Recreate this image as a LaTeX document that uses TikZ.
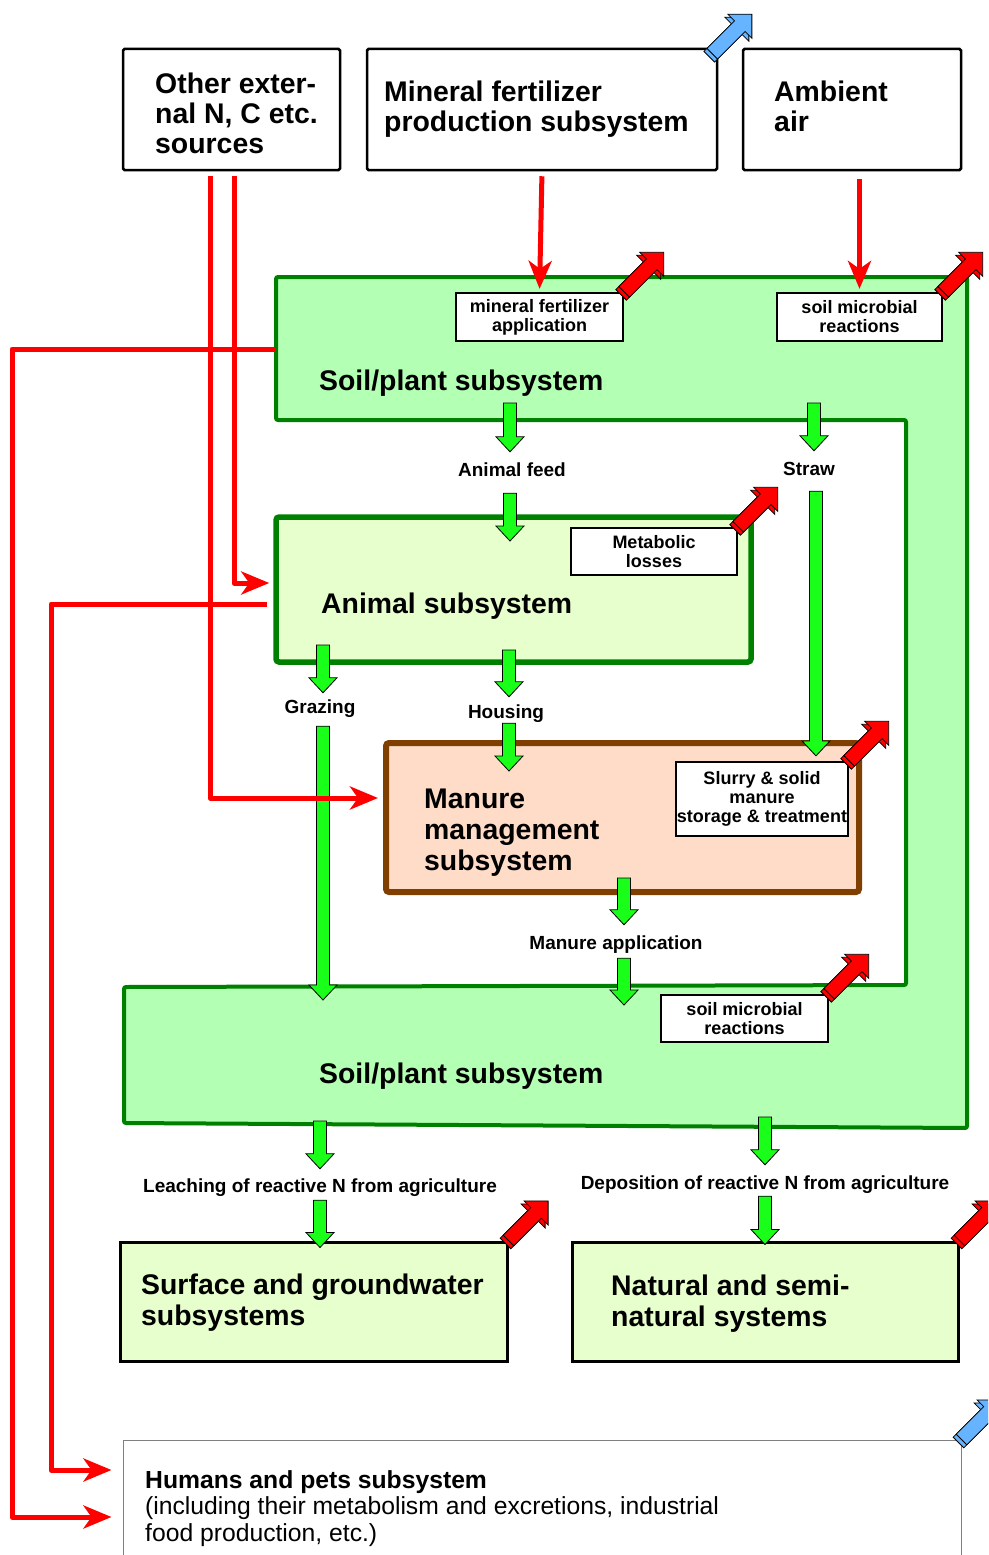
\documentclass[tikz,border=0pt]{standalone}
\usepackage{fontspec}
\setmainfont{Liberation Sans}
\usetikzlibrary{arrows.meta,calc}

\definecolor{soilgreen}{HTML}{B3FFB3}
\definecolor{palegreen}{HTML}{E6FFCC}
\definecolor{edgegreen}{HTML}{008000}
\definecolor{peach}{HTML}{FFDCC8}
\definecolor{manurebrown}{HTML}{7F3F00}
\definecolor{flowgreen}{HTML}{1AFF1A}
\definecolor{skyblue}{HTML}{66B3FF}

\newcommand\titlefont{\bfseries\fontsize{28.4}{30}\selectfont}
\newcommand\boxfont{\bfseries\fontsize{18}{19}\selectfont}
\newcommand\flowfont{\bfseries\fontsize{19}{20}\selectfont}

\tikzset{
  topbox/.style={draw=black,fill=white,line width=2.5pt,rounded corners=1.5pt,inner sep=0pt},
  smallbox/.style={draw=black,fill=white,line width=2.2pt,font=\boxfont,align=center,inner sep=0pt},
  title/.style={font=\titlefont,align=left,inner sep=0pt,anchor=north west},
  flowlabel/.style={font=\flowfont,inner sep=0pt,text height=14pt,text depth=4pt,anchor=base},
  flowarrow/.style={fill=flowgreen,draw=black,line width=0.8pt},
  feedline/.style={draw=red,line width=5pt,line join=round,-{Stealth[length=28pt,width=23pt,inset=8pt]}},
  pics/emission/.style={code={
    \begin{scope}[shift={(-3,3)},rotate=45]
      \filldraw[fill=#1,draw=black,line width=0.8pt] (0,7.5) -- (39,7.5) -- (39,17) -- (56,0) -- (39,-17) -- (39,-7.5) -- (0,-7.5) -- cycle;
    \end{scope}
    \begin{scope}[rotate=45]
      \filldraw[fill=#1,draw=black,line width=0.8pt] (0,7.5) -- (39,7.5) -- (39,17) -- (56,0) -- (39,-17) -- (39,-7.5) -- (0,-7.5) -- cycle;
    \end{scope}
  }},
  pics/emission/.default=red,
}

% green flow arrow, always pointing down
\newcommand\flow[2]{%
  \draw[flowarrow] let \p1=#1, \p2=#2 in
    (\x1-6.5pt,\y1) -- (\x1-6.5pt,\y2+15pt) -- (\x1-14pt,\y2+15pt) -- (\x1,\y2)
    -- (\x1+14pt,\y2+15pt) -- (\x1+6.5pt,\y2+15pt) -- (\x1+6.5pt,\y1) -- cycle;}

\begin{document}
\begin{tikzpicture}[x=1pt,y=-1pt]
\useasboundingbox (0,0) rectangle (988,1555);
\clip (0,0) rectangle (988,1555);

% sources
\node[topbox,minimum width=217,minimum height=121] (other) at (231.5,109.5) {};
\node[title] at (155,73) {Other exter-\\nal N, C etc.\\sources};
\node[topbox,minimum width=350,minimum height=121] (mineral) at (542,109.5) {};
\node[title] at (384,81) {Mineral fertilizer\\production subsystem};
\node[topbox,minimum width=218,minimum height=121] (ambient) at (852,109.5) {};
\node[title] at (774,81) {Ambient\\air};

% soil/plant (upper and lower part)
\draw[fill=soilgreen,draw=edgegreen,line width=4pt,rounded corners=2pt]
  (276,277) -- (967,277) -- (967,1128) -- (124,1123) -- (124,987) -- (906,985) -- (906,420) -- (276,420) -- cycle;
\node[smallbox,minimum width=167,minimum height=48] (mfa) at (539.5,317) {mineral fertilizer\\application};
\node[smallbox,minimum width=165,minimum height=48] (smr1) at (859.5,317) {soil microbial\\reactions};
\node[title] at (319,370) {Soil/plant subsystem};
\node[smallbox,minimum width=167,minimum height=47] (smr2) at (744.5,1018.5) {soil microbial\\reactions};
\node[title] at (319,1063) {Soil/plant subsystem};

% animal
\node[draw=edgegreen,fill=palegreen,line width=5.5pt,rounded corners=3pt,minimum width=475,minimum height=145] (animal) at (513.5,589.5) {};
\node[smallbox,minimum width=166,minimum height=47] (metab) at (654,551.5) {Metabolic\\losses};
\node[title] at (321,593) {Animal subsystem};

% manure
\node[draw=manurebrown,fill=peach,line width=6pt,rounded corners=3pt,minimum width=473,minimum height=149] (manure) at (622.5,817.5) {};
\node[smallbox,minimum width=172,minimum height=74] (slurry) at (762,799) {Slurry \& solid\\manure\\storage \& treatment};
\node[title,font=\bfseries\fontsize{28.4}{31}\selectfont] at (424,789) {Manure\\management\\subsystem};

% receiving systems
\node[draw=black,fill=palegreen,line width=3pt,minimum width=387,minimum height=119] (surface) at (313.5,1301.5) {};
\node[title,font=\bfseries\fontsize{28.4}{31}\selectfont] at (141,1274) {Surface and groundwater\\subsystems};
\node[draw=black,fill=palegreen,line width=3pt,minimum width=386,minimum height=119] (natural) at (765,1301.5) {};
\node[title,font=\bfseries\fontsize{28.4}{31}\selectfont] at (611,1275) {Natural and semi-\\natural systems};
\node[draw=gray,fill=white,line width=1pt,minimum width=838,minimum height=140] (humans) at (542,1510) {};
\node[title,font=\fontsize{24.7}{26.5}\selectfont] at (145,1470) {\textbf{Humans and pets subsystem}\\(including their metabolism and excretions, industrial\\food production, etc.)};

% flow labels
\node[flowlabel] (feed) at (512,476) {Animal feed};
\node[flowlabel] (straw) at (809,475) {Straw};
\node[flowlabel] (graze) at (320,713) {Grazing};
\node[flowlabel] (house) at (506,718) {Housing};
\node[flowlabel] (manapp) at (616,949) {Manure application};
\node[flowlabel] (leach) at (320,1192) {Leaching of reactive N from agriculture};
\node[flowlabel] (depo) at (765,1189) {Deposition of reactive N from agriculture};

\coordinate (feedtop) at (510,403);
\coordinate (strawtop) at (814,403);
\coordinate (feedend) at (510,541);
\coordinate (grazetop) at (323,645);
\coordinate (grazeend) at (323,1000);
\coordinate (housetop) at (509,650);
\coordinate (houseend) at (509,771);
\coordinate (manapptop) at (624,878);
\coordinate (manappend) at (624,1005);
\coordinate (leachtop) at (320,1121);
\coordinate (depotop) at (765,1117);

\flow{(feedtop)}{([yshift=10]feed.north)}
\flow{([yshift=-13,xshift=-2]feed.south)}{(feedend)}
\flow{(strawtop)}{([yshift=10]straw.north)}
\flow{([yshift=-12,xshift=7]straw.south)}{([yshift=5]slurry.north)}
\flow{(grazetop)}{([yshift=6]graze.north)}
\flow{([yshift=-9,xshift=3]graze.south)}{(grazeend)}
\flow{(housetop)}{([yshift=7]house.north)}
\flow{([yshift=-1,xshift=3]house.south)}{(houseend)}
\flow{(manapptop)}{([yshift=10]manapp.north)}
\flow{([yshift=-5,xshift=8]manapp.south)}{(manappend)}
\flow{(leachtop)}{([yshift=9]leach.north)}
\flow{([yshift=-4]leach.south)}{([yshift=-7]surface.north)}
\flow{(depotop)}{([yshift=10]depo.north)}
\flow{([yshift=-3]depo.south)}{([yshift=-4]natural.north)}

% N inputs and transfers
\coordinate (soilout) at (276,349);
\coordinate (aniout) at ([xshift=-6,yshift=-14.5]animal.west);
\coordinate (aniin) at ([xshift=-4,yshift=6.5]animal.west);
\coordinate (manin) at (378,798);
\coordinate (humin1) at ([xshift=-11,yshift=40]humans.west);
\coordinate (humin2) at ([xshift=-11,yshift=-7]humans.west);

\draw[feedline,shorten <=5pt,shorten >=3pt] (mineral.south) -- (mfa.north);
\draw[feedline,shorten <=8pt,shorten >=3pt] (smr1.north |- ambient.south) -- (smr1.north);
\draw[feedline,shorten <=5pt] ([xshift=-21.5]other.south) |- (manin);
\draw[feedline,shorten <=5pt] ([xshift=2.5]other.south) |- (aniin);
\draw[feedline] (soilout) -| (12,1517) -- (humin2);
\draw[feedline] (aniout) -| (51,1470) -- (humin1);

% emissions
\pic at ([shift={(-6,6)}]mineral.north east) {emission=skyblue};
\pic at (mfa.north east) {emission};
\pic at (smr1.north east) {emission};
\pic at (metab.north east) {emission};
\pic at (slurry.north east) {emission};
\pic at (smr2.north east) {emission};
\pic at (surface.north east) {emission};
\pic at (natural.north east) {emission};
\pic at (humans.north east) {emission=skyblue};
\end{tikzpicture}
\end{document}
